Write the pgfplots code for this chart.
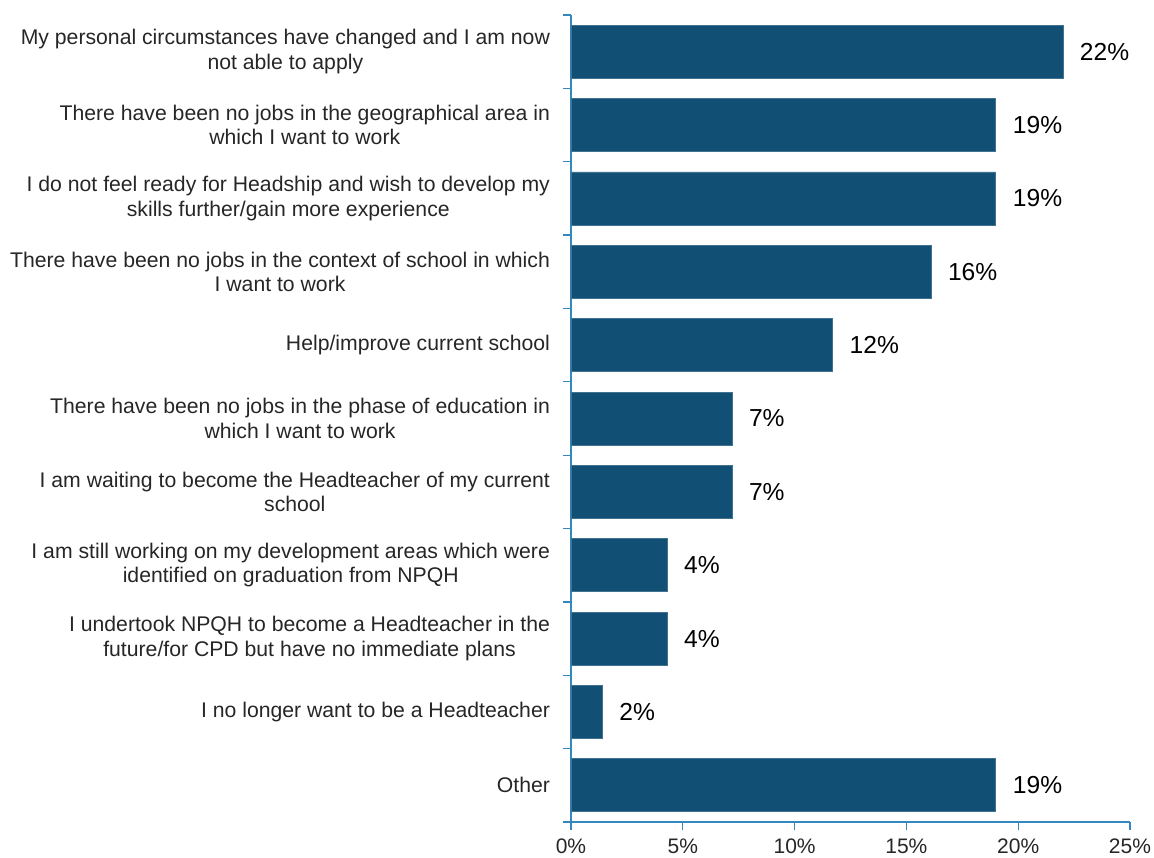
\documentclass[border=0pt]{standalone}
\usepackage{pgfplots}
\pgfplotsset{compat=1.18}
\usepackage{pgfplotstable}
\usepackage{fontspec}
\setmainfont{Liberation Sans}
\definecolor{barblue}{RGB}{18,79,117}
\definecolor{axblue}{RGB}{52,136,192}
\pgfplotstableread[col sep=comma]{
x,y,lab
22.0,0,22\%
19.0,1,19\%
19.0,2,19\%
16.1,3,16\%
11.7,4,12\%
7.2,5,7\%
7.2,6,7\%
4.3,7,4\%
4.3,8,4\%
1.4,9,2\%
19.0,10,19\%
}\datatab
\begin{document}
\begin{tikzpicture}
\begin{axis}[
  scale only axis,
  width=279.5pt, height=403.5pt,
  xbar, bar width=26.5pt,
  xmin=0, xmax=25,
  ymin=-0.5, ymax=10.5,
  y dir=reverse,
  axis x line*=bottom, axis y line*=left,
  axis line style={axblue, line width=0.6pt},
  every tick/.style={axblue, line width=0.6pt},
  tick align=outside,
  xtick={0,5,10,15,20,25},
  xticklabel={\pgfmathprintnumber{\tick}\%},
  major tick length=4pt,
  minor tick length=4pt,
  ytick={0,...,10},
  major y tick style={draw=none},
  minor ytick={-0.5,0.5,...,10.5},
  yticklabels={
    {My personal circumstances have changed and I am now\\not able to apply},
    {There have been no jobs in the geographical area in\\which I want to work},
    {I do not feel ready for Headship and wish to develop my\\skills further/gain more experience},
    {There have been no jobs in the context of school in which\\I want to work},
    {Help/improve current school},
    {There have been no jobs in the phase of education in\\which I want to work},
    {I am waiting to become the Headteacher of my current\\school},
    {I am still working on my development areas which were\\identified on graduation from NPQH},
    {I undertook NPQH to become a Headteacher in the\\future/for CPD but have no immediate plans},
    {I no longer want to be a Headteacher},
    {Other}},
  yticklabel style={align=center, font=\fontsize{10.6}{12.2}\selectfont, text=black!85, xshift=-3pt},
  xticklabel style={font=\fontsize{10.5}{12}\selectfont, text=black!85, yshift=-1pt},
  /pgf/number format/assume math mode=true,
  nodes near coords,
  point meta=explicit symbolic,
  nodes near coords style={anchor=west, font=\fontsize{12.3}{14}\selectfont, text=black, xshift=5pt},
  clip=false,
]
\addplot[fill=barblue, draw=barblue!80!white] table[x=x, y=y, meta=lab] {\datatab};
\end{axis}
\pgfresetboundingbox
\path (current axis.south west) ++(-285.5pt,-17.5pt) rectangle ++(577pt,428.5pt);
\end{tikzpicture}
\end{document}
